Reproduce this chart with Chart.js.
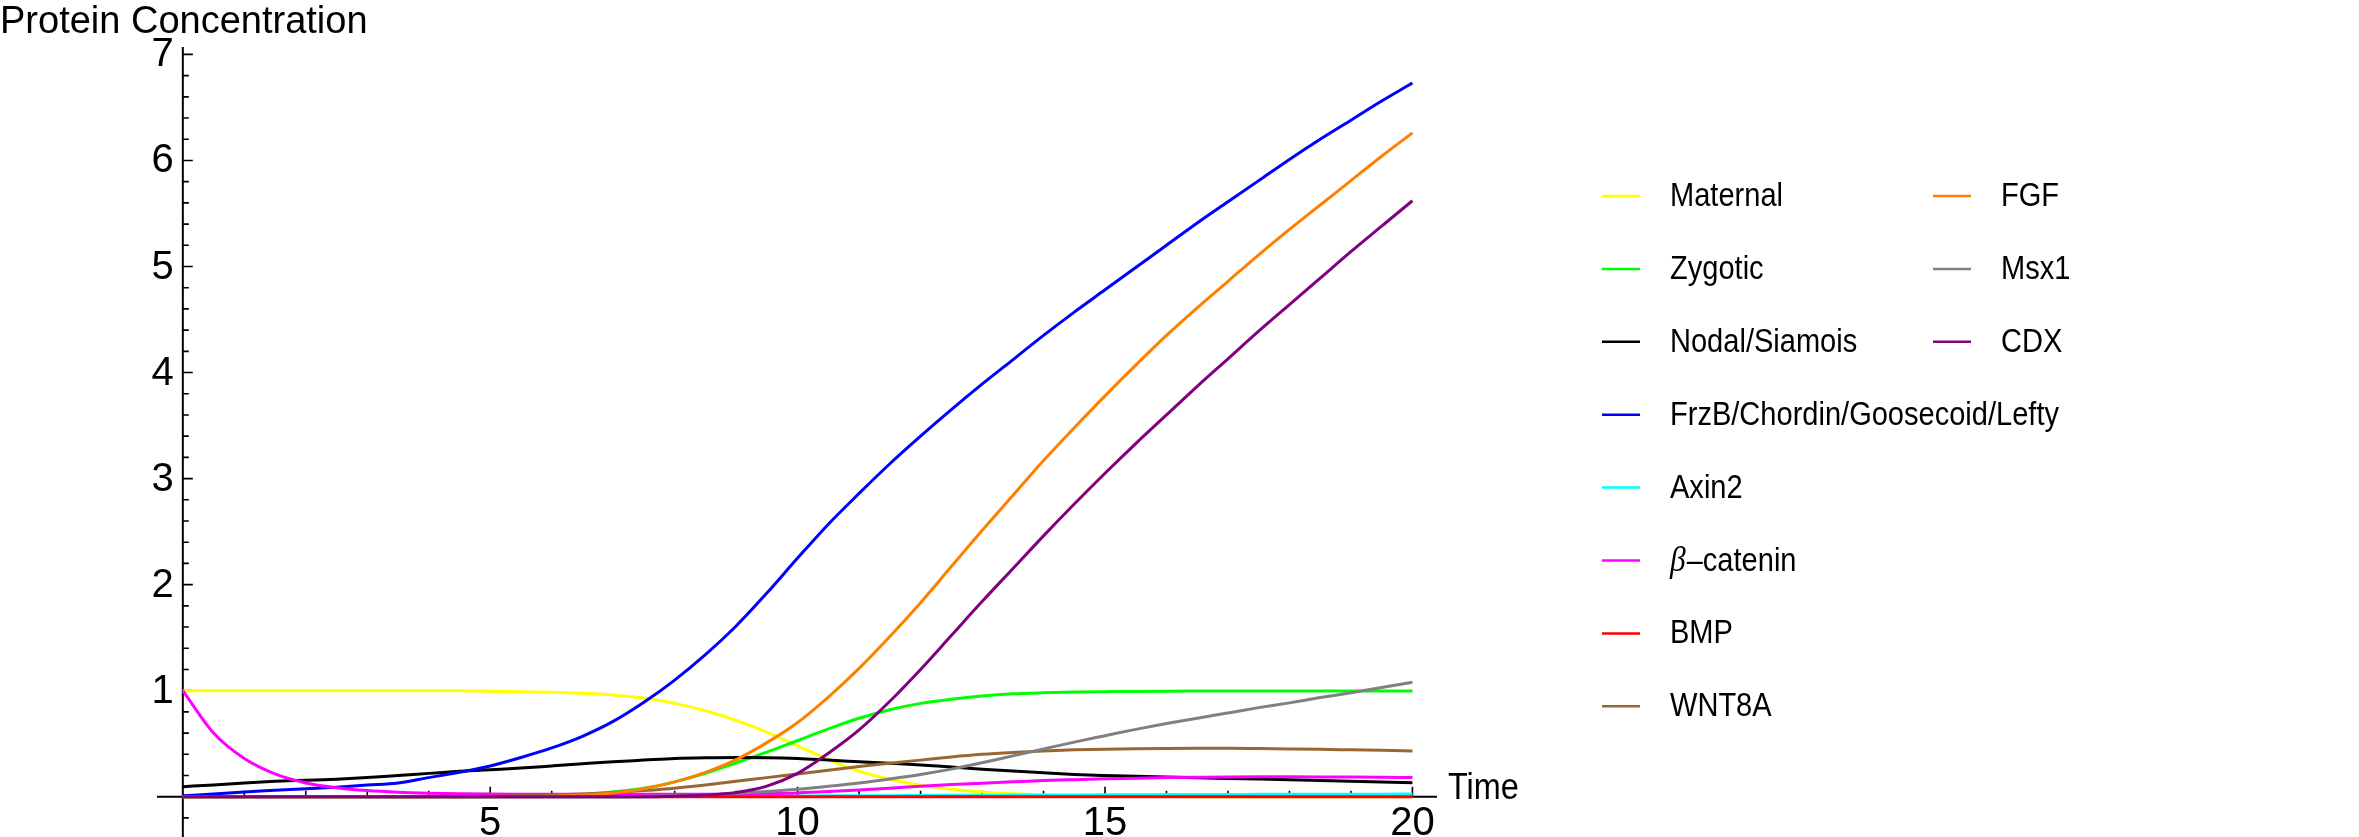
<!DOCTYPE html>
<html>
<head>
<meta charset="utf-8">
<script src="https://cdn.jsdelivr.net/npm/chart.js@4.4.1/dist/chart.umd.min.js"></script>
<style>
  body{margin:0;background:#fff;}
  canvas{display:block;}
</style>
</head>
<body>
<canvas id="proteinChart" width="2359" height="837"></canvas>
<script>
// sample times (x) and protein levels
const times=[0,0.5,1,1.5,2,2.5,3,3.5,4,4.5,5,5.5,6,6.5,7,7.5,8,8.5,9,9.5,10,10.5,11,11.5,12,12.5,13,13.5,14,14.5,15,15.5,16,16.5,17,17.5,18,18.5,19,19.5,20];

const maternal=[1,1,1,1,1,1,1,1,1,1,0.995,0.99,0.985,0.975,0.96,0.93,0.88,0.81,0.72,0.61,0.48,0.35,0.24,0.165,0.11,0.07,0.045,0.028,0.017,0.01,0.006,0.004,0.002,0,0,0,0,0,0,0,0];
const zygotic=[0,0,0,0,0,0,0,0,0,0,0.002,0.005,0.01,0.02,0.045,0.08,0.14,0.22,0.32,0.42,0.53,0.64,0.74,0.82,0.88,0.92,0.95,0.97,0.98,0.987,0.99,0.993,0.995,0.996,0.997,0.997,0.998,0.998,0.998,0.998,0.998];
const nodalSiamois=[0.095,0.11,0.13,0.145,0.155,0.165,0.18,0.2,0.22,0.24,0.255,0.27,0.29,0.31,0.33,0.345,0.36,0.367,0.37,0.368,0.36,0.345,0.33,0.315,0.3,0.28,0.26,0.242,0.225,0.21,0.2,0.192,0.185,0.178,0.172,0.166,0.16,0.153,0.146,0.139,0.132];
const frzB=[0.01,0.025,0.045,0.06,0.075,0.09,0.11,0.13,0.18,0.23,0.29,0.37,0.46,0.57,0.71,0.89,1.1,1.34,1.61,1.92,2.25,2.57,2.86,3.14,3.4,3.65,3.89,4.12,4.35,4.57,4.78,4.99,5.2,5.41,5.61,5.81,6.01,6.2,6.38,6.56,6.73];
const axin2=[0,0,0,0,0,0,0,0,0,0,0,0,0,0,0,0,0.002,0.003,0.004,0.005,0.006,0.008,0.009,0.01,0.012,0.013,0.014,0.015,0.016,0.017,0.018,0.019,0.02,0.021,0.021,0.022,0.023,0.023,0.024,0.024,0.025];
const betaCatenin=[1,0.6,0.36,0.215,0.13,0.085,0.058,0.042,0.033,0.028,0.025,0.024,0.023,0.023,0.023,0.023,0.023,0.024,0.026,0.03,0.036,0.048,0.063,0.08,0.098,0.114,0.128,0.14,0.152,0.161,0.169,0.175,0.18,0.184,0.187,0.188,0.188,0.187,0.185,0.183,0.18];
const bmp=[0,0,0,0,0,0,0,0,0,0,0,0,0,0,0,0,0,0,0,0,0,0,0,0,0,0,0,0,0,0,0,0,0,0,0,0,0,0,0,0,0];
const wnt8a=[0,0,0,0,0,0,0,0,0,0.002,0.004,0.008,0.015,0.025,0.04,0.058,0.08,0.11,0.145,0.18,0.215,0.25,0.285,0.315,0.345,0.375,0.4,0.418,0.432,0.442,0.448,0.452,0.455,0.456,0.456,0.454,0.451,0.447,0.442,0.437,0.432];
const fgf=[0,0,0,0,0,0,0,0,0,0,0,0,0.005,0.015,0.035,0.075,0.14,0.23,0.35,0.51,0.7,0.94,1.21,1.51,1.83,2.17,2.51,2.84,3.17,3.48,3.78,4.07,4.35,4.61,4.86,5.11,5.35,5.58,5.81,6.04,6.26];
const msx1=[0,0,0,0,0,0,0,0,0,0,0,0,0,0,0,0.005,0.01,0.018,0.03,0.048,0.07,0.098,0.13,0.168,0.21,0.26,0.32,0.385,0.45,0.515,0.575,0.635,0.69,0.74,0.79,0.84,0.885,0.935,0.98,1.03,1.08];
const cdx=[0,0,0,0,0,0,0,0,0,0,0,0,0,0,0,0,0.005,0.015,0.04,0.1,0.22,0.41,0.63,0.9,1.2,1.52,1.84,2.15,2.46,2.76,3.05,3.33,3.6,3.87,4.13,4.39,4.64,4.89,5.14,5.38,5.62];

const seriesNames=['Maternal','Zygotic','Nodal/Siamois','FrzB/Chordin/Goosecoid/Lefty','Axin2','β–catenin','BMP','WNT8A','FGF','Msx1','CDX'];
const seriesValues=[maternal,zygotic,nodalSiamois,frzB,axin2,betaCatenin,bmp,wnt8a,fgf,msx1,cdx];

const xTickLabels=[5,10,15,20];
const yTickLabels=[1,2,3,4,5,6,7];
const xAxisTitle='Time';
const yAxisTitle='Protein Concentration';

const lineColors=['#ffff00','#00ff00','#000000','#0000ff','#00ffff','#ff00ff','#ff0000','#996633','#ff8000','#808080','#800080'];

const SANS='"Liberation Sans", Arial, sans-serif';

// text squeezed a bit sideways, like the narrow face of the original
function drawText(ctx,text,x,y,font,sx,align,baseline){
  ctx.save();
  ctx.font=font;
  ctx.textAlign=align;ctx.textBaseline=baseline;
  ctx.translate(x,y);ctx.scale(sx,1);
  ctx.fillText(text,0,0);
  const w=ctx.measureText(text).width*sx;
  ctx.restore();
  return w;
}

// axes crossing at the origin, ticks pointing inward
const axesPlugin={
  id:'originAxes',
  beforeDatasetsDraw(chart){
    const ctx=chart.ctx;
    const xs=chart.scales.x, ys=chart.scales.y;
    const x0=xs.getPixelForValue(0), y0=ys.getPixelForValue(0);
    ctx.save();
    ctx.strokeStyle='#000';
    ctx.lineWidth=2;
    ctx.beginPath();
    ctx.moveTo(xs.left,y0);ctx.lineTo(xs.right,y0);
    ctx.moveTo(x0,ys.top);ctx.lineTo(x0,ys.bottom);
    ctx.stroke();

    ctx.lineWidth=1.6;
    ctx.beginPath();
    for(let t=1;t<=20;t++){
      const px=xs.getPixelForValue(t);
      const len=t%5===0?10:6;
      ctx.moveTo(px,y0);ctx.lineTo(px,y0-len);
    }
    for(let k=-1;k<=35;k++){
      if(k===0) continue;
      const py=ys.getPixelForValue(k/5);
      const len=k%5===0?10:6;
      ctx.moveTo(x0,py);ctx.lineTo(x0+len,py);
    }
    ctx.stroke();

    ctx.fillStyle='#000';
    xTickLabels.forEach(v=>drawText(ctx,String(v),xs.getPixelForValue(v),835,'40px '+SANS,1,'center','alphabetic'));
    yTickLabels.forEach(v=>drawText(ctx,String(v),x0-9,ys.getPixelForValue(v)+1,'40px '+SANS,1,'right','middle'));

    drawText(ctx,xAxisTitle,xs.right+11,y0-8,'36px '+SANS,0.9,'left','middle');
    drawText(ctx,yAxisTitle,0,33,'38px '+SANS,1,'left','alphabetic');
    ctx.restore();
  }
};

const legendPlugin={
  id:'twoColLegend',
  afterDraw(chart){
    const ctx=chart.ctx;
    const cols=[{sx:1602,tx:1670},{sx:1933,tx:2001}];
    const rowTop=196, rowStep=72.9, perCol=8;
    ctx.save();
    chart.data.datasets.forEach((ds,i)=>{
      const c=cols[Math.floor(i/perCol)];
      const yy=rowTop+(i%perCol)*rowStep;
      ctx.strokeStyle=ds.borderColor;
      ctx.lineWidth=2.5;
      ctx.beginPath();ctx.moveTo(c.sx,yy);ctx.lineTo(c.sx+38,yy);ctx.stroke();
      ctx.fillStyle='#000';
      const label=ds.label;
      if(label.startsWith('β')){
        const w=drawText(ctx,'β',c.tx,yy+1,'italic 35px "Liberation Serif", serif',0.9,'left','middle');
        drawText(ctx,label.slice(1),c.tx+w+1,yy+1,'33px '+SANS,0.88,'left','middle');
      }else{
        drawText(ctx,label,c.tx,yy+1,'33px '+SANS,0.88,'left','middle');
      }
    });
    ctx.restore();
  }
};

const ctx=document.getElementById('proteinChart');
new Chart(ctx,{
  type:'line',
  data:{
    datasets:seriesNames.map((name,i)=>({
      label:name,
      data:times.map((t,j)=>({x:t,y:seriesValues[i][j]})),
      borderColor:lineColors[i],
      backgroundColor:lineColors[i],
      borderWidth:3,
      pointRadius:0,
      fill:false,
      cubicInterpolationMode:'monotone',
      order:-i
    }))
  },
  options:{
    responsive:false,
    devicePixelRatio:1,
    animation:false,
    layout:{padding:{left:157,right:922,top:47,bottom:0}},
    plugins:{legend:{display:false},tooltip:{enabled:false}},
    scales:{
      x:{type:'linear',min:-0.42,max:20.4,display:false},
      y:{type:'linear',min:-0.38,max:7.07,display:false}
    }
  },
  plugins:[axesPlugin,legendPlugin]
});
</script>
</body>
</html>
